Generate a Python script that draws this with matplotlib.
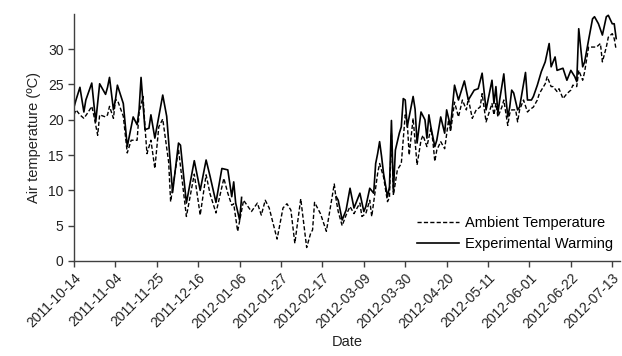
import numpy as np
import matplotlib
matplotlib.use("Agg")
import matplotlib.pyplot as plt
import matplotlib.dates as mdates

plt.rcParams['font.family'] = ['Liberation Sans', 'DejaVu Sans']

start = np.datetime64('2011-10-14')

# ambient temperature (dashed), day offset from 2011-10-14 and value
amb_day = [0, 1, 3, 5, 7, 9, 10, 12, 13, 16, 17, 18, 20, 21, 22, 25, 27, 29, 32, 33,
           35, 36, 37, 39, 41, 43, 45, 48, 49, 53, 55, 57, 61, 64, 67, 69, 72, 76, 78, 80,
           81, 83, 86, 87, 90, 93, 95, 97, 99, 103, 106, 108, 110, 112, 115, 118, 120, 121, 122, 125,
           128, 132, 133, 134, 136, 138, 140, 142, 145, 146, 148, 150, 151, 154, 155, 157, 159, 160, 161, 162,
           164, 166, 168, 169, 170, 172, 174, 176, 177, 179, 181, 182, 183, 184, 186, 188, 190, 191, 193, 195,
           197, 199, 200, 202, 204, 206, 207, 209, 211, 212, 213, 214, 215, 217, 218, 220, 221, 222, 224, 225,
           226, 228, 230, 231, 233, 235, 236, 239, 240, 242, 243, 245, 246, 248, 250, 252, 253, 255, 256, 258,
           259, 261, 263, 265, 267, 268, 270, 271, 273, 274, 275]
amb_val = [20.7, 21.4, 20.7, 20.2, 21.0, 21.9, 20.7, 17.8, 20.7, 20.4, 20.7, 21.9, 20.2, 22.8, 22.8, 20.5, 15.3, 17.1, 17.1, 21.0,
           23.3, 19.0, 15.2, 17.1, 13.1, 19.0, 20.1, 14.0, 8.4, 15.8, 11.0, 6.3, 12.3, 6.5, 12.2, 9.5, 6.8, 11.7, 9.6, 7.9,
           8.1, 4.2, 8.6, 8.2, 7.0, 8.2, 6.5, 8.6, 7.5, 3.1, 7.5, 8.1, 7.2, 2.5, 8.8, 1.9, 3.9, 4.4, 8.3, 6.7,
           4.2, 10.9, 8.6, 7.0, 5.0, 6.5, 7.7, 6.7, 8.2, 6.3, 6.7, 8.6, 6.3, 12.4, 13.8, 11.9, 8.4, 9.0, 18.1, 9.3,
           12.9, 13.8, 20.7, 19.7, 15.0, 20.2, 13.6, 17.1, 17.8, 16.2, 18.8, 17.0, 14.1, 15.7, 16.9, 15.9, 20.0, 18.3, 22.5, 20.4,
           22.8, 21.4, 23.0, 20.2, 21.4, 21.8, 23.7, 19.7, 21.4, 22.3, 20.7, 22.3, 20.4, 21.8, 22.8, 19.2, 20.9, 21.4, 21.4, 19.7,
           21.4, 22.8, 21.1, 21.4, 21.8, 22.8, 23.7, 25.1, 26.1, 24.7, 24.7, 24.0, 24.4, 23.0, 23.7, 24.2, 24.9, 24.7, 27.0, 25.6,
           26.8, 30.3, 30.3, 30.3, 30.8, 28.2, 30.3, 31.7, 32.2, 31.5, 29.9]

# experimental warming (solid); NaN marks the gap with no record
warm_day = [0, 1, 3, 5, 6, 9, 11, 13, 16, 17, 18, 20, 21, 22, 25, 27, 30, 32, 33, 34,
            36, 38, 39, 41, 45, 47, 50, 53, 54, 57, 61, 64, 67, 69, 72, 75, 78, 80, 81, 82,
            84, 85, 100, 133, 134, 136, 138, 140, 142, 143, 145, 147, 148, 150, 152, 153, 154, 155, 156, 157,
            159, 160, 161, 162, 163, 165, 166, 167, 168, 169, 172, 173, 174, 176, 178, 179, 180, 181, 183, 184,
            186, 188, 189, 191, 193, 195, 198, 200, 203, 205, 207, 209, 210, 212, 213, 214, 215, 216, 218, 219,
            220, 221, 222, 223, 225, 226, 229, 230, 232, 233, 235, 237, 239, 241, 242, 244, 245, 248, 250, 252,
            254, 255, 256, 258, 259, 261, 263, 264, 266, 268, 270, 271, 273, 274, 275]
warm_val = [21.8, 22.8, 24.6, 21.1, 22.8, 25.2, 19.7, 25.1, 23.6, 24.6, 26.0, 21.4, 22.8, 24.9, 22.3, 16.2, 20.4, 19.3, 21.4, 26.0,
            18.6, 18.8, 20.7, 17.4, 23.5, 20.5, 9.7, 16.7, 16.4, 8.2, 14.2, 10.0, 14.3, 12.0, 8.3, 13.1, 12.9, 9.1, 11.2, 8.2,
            5.8, 9.0, np.nan, 9.1, 8.6, 5.8, 7.2, 10.3, 7.5, 8.2, 9.6, 7.0, 7.7, 10.3, 9.6, 13.8, 15.2, 16.9, 14.8, 12.4,
            9.1, 10.5, 19.9, 9.8, 15.7, 18.1, 19.0, 23.0, 22.8, 19.0, 23.3, 21.5, 16.7, 21.1, 20.0, 17.4, 20.7, 19.0, 16.2, 17.1,
            20.4, 18.1, 21.4, 19.0, 24.9, 22.8, 25.5, 22.8, 24.2, 24.4, 26.6, 21.4, 22.8, 25.6, 22.3, 24.7, 20.9, 23.0, 26.5, 23.3,
            20.4, 21.8, 24.2, 23.8, 21.4, 21.8, 26.7, 22.8, 22.8, 23.3, 24.9, 26.8, 28.2, 30.8, 27.5, 28.9, 27.0, 27.3, 25.6, 27.0,
            26.1, 25.4, 32.9, 27.5, 28.2, 31.3, 34.3, 34.6, 33.6, 32.0, 34.6, 34.8, 33.6, 33.6, 31.5]

tick_every = 21
n_ticks = 14

amb_dates = start + np.array(amb_day).astype('timedelta64[D]')
warm_dates = start + np.array(warm_day).astype('timedelta64[D]')
tick_dates = start + (np.arange(n_ticks) * tick_every).astype('timedelta64[D]')

fig = plt.figure(figsize=(6.22, 3.56), dpi=100)
ax = fig.add_axes([0.119, 0.267, 0.878, 0.694])

ax.plot(amb_dates, amb_val, color='black', lw=1.0, ls=(0, (3, 1.6)),
        label='Ambient Temperature')
ax.plot(warm_dates, warm_val, color='black', lw=1.2, ls='-',
        label='Experimental Warming')

ax.set_xlim(start, start + np.timedelta64(277, 'D'))
ax.set_ylim(0, 35)
ax.set_yticks(range(0, 35, 5))
ax.set_xticks(tick_dates)
ax.xaxis.set_major_formatter(mdates.DateFormatter('%Y-%m-%d'))
for lab in ax.get_xticklabels():
    lab.set_rotation(45)
    lab.set_ha('right')
    lab.set_rotation_mode('anchor')

for s in ['top', 'right']:
    ax.spines[s].set_visible(False)
for s in ['left', 'bottom']:
    ax.spines[s].set_color('#404040')
    ax.spines[s].set_linewidth(1.0)
ax.tick_params(direction='out', length=4, width=1, color='#404040',
               labelsize=10, labelcolor='#222222')
ax.tick_params(axis='x', pad=3)

ax.set_ylabel('Air temperature (ºC)', fontsize=10.5, color='#222222', labelpad=5)
ax.set_xlabel('Date', fontsize=10.5, color='#222222', labelpad=3)

ax.legend(loc='lower right', frameon=False, fontsize=10.5, handlelength=2.9,
          handletextpad=0.4, labelspacing=0.5, borderaxespad=0.1,
          bbox_to_anchor=(1.0, 0.01))

fig.savefig('out.png', dpi=100)
